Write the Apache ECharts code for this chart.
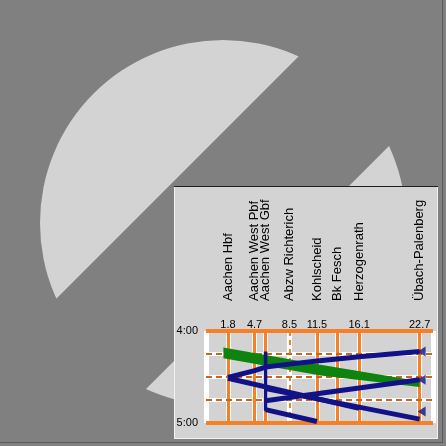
<!DOCTYPE html>
<html>
<head>
<meta charset="utf-8">
<script src="https://cdn.jsdelivr.net/npm/echarts@6/dist/echarts.min.js"></script>
<style>
  html, body { margin: 0; padding: 0; background: #808080; }
  #chart { width: 446px; height: 446px; }
</style>
</head>
<body>
<div id="chart"></div>
<script>
// stations along the line (km) and their names
const stationKm = [1.8, 4.7, 5.9, 8.5, 11.5, 13.7, 16.1, 22.7]
const stationNames = ['Aachen Hbf', 'Aachen West Pbf', 'Aachen West Gbf', 'Abzw Richterich',
  'Kohlscheid', 'Bk Fesch', 'Herzogenrath', 'Übach-Palenberg']
const kmLabels = [1.8, 4.7, 8.5, 11.5, 16.1, 22.7]
const junctionKm = [8.5]
// time axis: minutes after 4:00
const timeTicks = [0, 60]
const quarterLines = [15, 30, 45]

// train paths [km, minutes after 4:00]
const train1 = [[22.7, 13.3], [16.1, 16.8], [13.7, 18.2], [11.5, 19.6], [8.5, 21.6], [5.9, 23.5], [4.7, 25.8], [1.8, 30.3]]
const train2 = [[1.8, 30.8], [16.1, 50.5]]
const train3 = [[22.7, 31.8], [5.9, 45.5]]
const train4 = [[5.9, 37.6], [22.7, 57.5]]
const train5 = [[5.9, 51.3], [11.5, 59]]
const gbfStand = [[5.9, 13.3], [5.9, 52]]
const trainStarts = [[22.7, 13.3], [22.7, 31.8], [22.7, 52.5]]

// green band: upper and lower time edge at each km
const greenKm = [1.3, 11.9, 22.7]
const greenTop = [10.8, 22, 32.8]
const greenBottom = [17.8, 29, 36.5]

const ORANGE = '#f58025'
const DASH = '#c8641e'
const BLUE = '#121288'

let solidKm = stationKm.filter(k => junctionKm.indexOf(k) < 0)

function nameForKm(v) {
  for (let i = 0; i < stationKm.length; i++) {
    if (Math.abs(stationKm[i] - v) < 1e-6) return stationNames[i]
  }
  return ''
}

function timeLabel(v) {
  let h = 4 + Math.floor(v / 60)
  let m = v % 60
  return h + ':' + (m < 10 ? '0' : '') + m
}

let whiteLines = stationKm.map(k => ({xAxis: k}))
  .concat([{xAxis: -0.6}, {xAxis: 24.16}])
  .concat(quarterLines.map(t => ({yAxis: t, lineStyle: {width: 4}})))
let colourLines = solidKm.map(k => ({xAxis: k, lineStyle: {color: ORANGE, width: 3, type: 'solid'}}))
  .concat(junctionKm.map(k => ({xAxis: k, lineStyle: {color: ORANGE, width: 2, type: [5, 4]}})))
  .concat(quarterLines.map(t => ({yAxis: t, lineStyle: {color: DASH, width: 2, type: [6, 4]}})))
  .concat(timeTicks.map(t => ({yAxis: t, lineStyle: {color: ORANGE, width: 4, type: 'solid'}})))

function trainSeries(data, width) {
  return {
    type: 'line',
    data: data,
    symbol: 'none',
    silent: true,
    z: 5,
    lineStyle: {color: BLUE, width: width || 5, cap: 'butt'}
  }
}

let chart = echarts.init(document.getElementById('chart'))
chart.setOption({
  animation: false,
  backgroundColor: 'transparent',
  graphic: [
    {type: 'circle', z: -5, shape: {cx: 223, cy: 223, r: 183}, style: {fill: '#d3d3d3'}},
    {type: 'polygon', z: -4, shape: {points: [[-200, 555], [555, -200], [735, -200], [-200, 735]]}, style: {fill: '#808080'}},
    {type: 'rect', z: -3, shape: {x: 174, y: 186, width: 264, height: 253}, style: {fill: '#d3d3d3'}},
    // bevel edges of the panel
    {type: 'line', z: -2, shape: {x1: 174, y1: 186.5, x2: 438, y2: 186.5}, style: {stroke: '#1e1e1e', lineWidth: 1}},
    {type: 'line', z: -2, shape: {x1: 174.5, y1: 187, x2: 174.5, y2: 439}, style: {stroke: '#f2f2f2', lineWidth: 1}},
    {type: 'line', z: -2, shape: {x1: 437.5, y1: 187, x2: 437.5, y2: 439}, style: {stroke: '#f0f0f0', lineWidth: 1}},
    {type: 'line', z: -2, shape: {x1: 174, y1: 438.5, x2: 438, y2: 438.5}, style: {stroke: '#f0f0f0', lineWidth: 1}},
    // outer frame
    {type: 'line', z: -2, shape: {x1: 0, y1: 442.5, x2: 443, y2: 442.5}, style: {stroke: '#5a5a5a', lineWidth: 1}},
    {type: 'line', z: -2, shape: {x1: 442.5, y1: 0, x2: 442.5, y2: 443}, style: {stroke: '#5a5a5a', lineWidth: 1}}
  ],
  grid: {left: 206, right: 13, top: 331, bottom: 23},
  xAxis: [{
    type: 'value', position: 'top', min: -0.6, max: 24.16,
    axisLine: {show: false}, axisTick: {show: false}, splitLine: {show: false},
    axisLabel: {
      customValues: kmLabels, margin: 1, fontSize: 11, color: '#000',
      fontFamily: 'Liberation Sans', formatter: v => v.toFixed(1)
    }
  }, {
    type: 'value', position: 'top', min: -0.6, max: 24.16,
    axisLine: {show: false}, axisTick: {show: false}, splitLine: {show: false},
    axisLabel: {
      customValues: stationKm, margin: 30, rotate: -90, fontSize: 13, color: '#000',
      fontFamily: 'Liberation Sans', formatter: nameForKm
    }
  }],
  yAxis: {
    type: 'value', min: 0, max: 60, interval: 60, inverse: true,
    axisLine: {show: true, onZero: false, lineStyle: {color: '#111', width: 1}},
    axisTick: {show: false}, splitLine: {show: false},
    axisLabel: {fontSize: 11, color: '#000', margin: 8, fontFamily: 'Liberation Sans', formatter: timeLabel}
  },
  series: [
    {
      type: 'line', data: [], z: 1, silent: true,
      markLine: {z: 1, silent: true, symbol: 'none', label: {show: false}, animation: false,
        lineStyle: {color: '#ffffff', width: 5, type: 'solid'}, data: whiteLines}
    },
    {
      type: 'line', data: [], z: 2, silent: true,
      markLine: {z: 2, silent: true, symbol: 'none', label: {show: false}, animation: false, data: colourLines}
    },
    {
      type: 'custom', z: 4, silent: true,
      data: [[greenKm[0], greenTop[0]]],
      renderItem: function (params, api) {
        let pts = []
        for (let i = 0; i < greenKm.length; i++) pts.push(api.coord([greenKm[i], greenTop[i]]))
        for (let i = greenKm.length - 1; i >= 0; i--) pts.push(api.coord([greenKm[i], greenBottom[i]]))
        return {type: 'polygon', shape: {points: pts}, style: {fill: '#0e840e'}}
      }
    },
    trainSeries(train1),
    trainSeries(train2),
    trainSeries(train3),
    trainSeries(train4),
    trainSeries(train5),
    trainSeries(gbfStand, 3.5),
    {
      type: 'scatter', data: trainStarts, z: 6, silent: true,
      symbol: 'triangle', symbolRotate: 90, symbolSize: [10, 8], symbolOffset: [2, 0],
      itemStyle: {color: BLUE}
    }
  ]
})
</script>
</body>
</html>
